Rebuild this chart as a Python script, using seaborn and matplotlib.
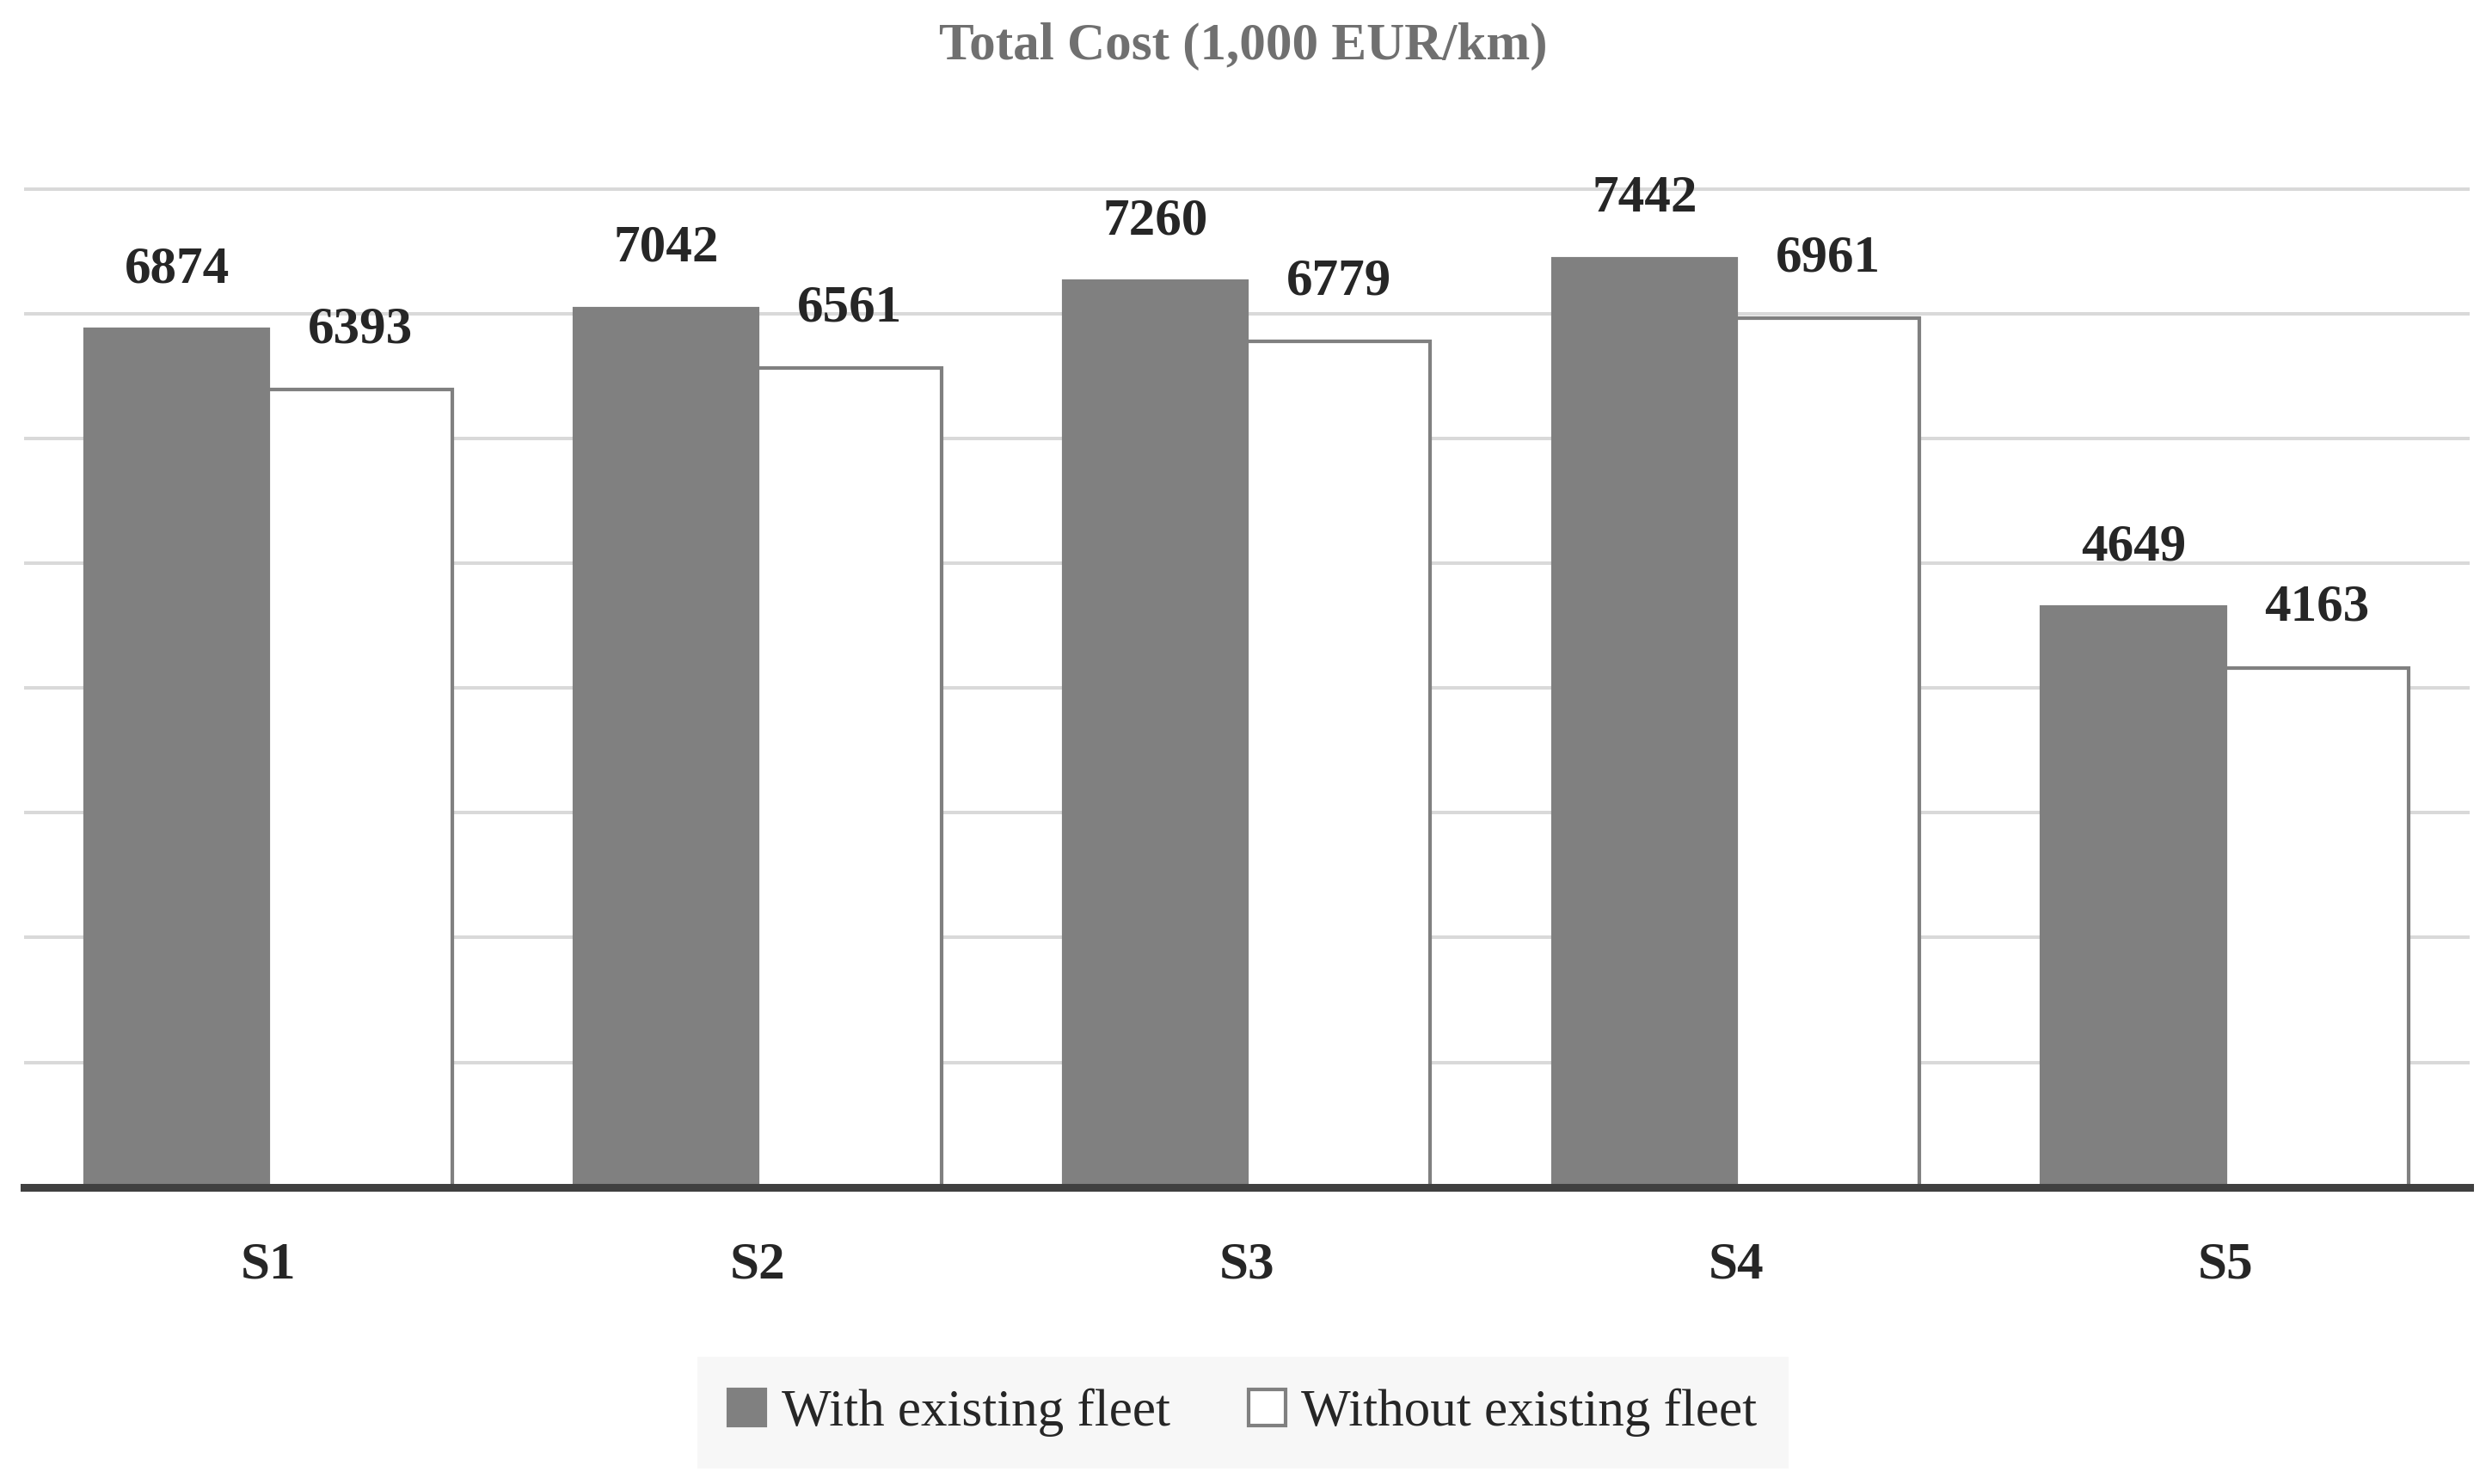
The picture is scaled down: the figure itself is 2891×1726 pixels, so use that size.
import pandas as pd
import matplotlib
matplotlib.use("Agg")
import matplotlib.pyplot as plt
import seaborn as sns

scenarios = ["S1", "S2", "S3", "S4", "S5"]
with_fleet = [6874, 7042, 7260, 7442, 4649]
without_fleet = [6393, 6561, 6779, 6961, 4163]
series = ["With existing fleet", "Without existing fleet"]

df = pd.DataFrame({
    "scenario": scenarios * 2,
    "cost": with_fleet + without_fleet,
    "series": [series[0]] * 5 + [series[1]] * 5,
})

sns.set_style("white")
plt.rcParams["font.family"] = ["Liberation Serif", "DejaVu Serif"]

fig = plt.figure(figsize=(28.91, 17.26), dpi=100)
ax = fig.add_axes([0.0097, 0.2, 0.9838, 0.698])

sns.barplot(data=df, x="scenario", y="cost", hue="series",
            palette=["#808080", "#ffffff"], width=0.75, gap=0,
            edgecolor="#808080", linewidth=3, ax=ax, legend=False, zorder=3)

for c in ax.containers:
    ax.bar_label(c, fmt="%d", padding=30, fontsize=44, fontweight="bold")

ax.set_ylim(0, 8300)
ax.set_xlim(-0.5, 4.5)
ax.set_yticks(range(1000, 8001, 1000))
ax.set_yticklabels([])
ax.yaxis.grid(True, color="#d9d9d9", linewidth=2.9, zorder=0)
ax.set_axisbelow(True)
for s in ["top", "right", "left"]:
    ax.spines[s].set_visible(False)
ax.spines["bottom"].set_color("#404040")
ax.spines["bottom"].set_linewidth(6.5)
ax.spines["bottom"].set_zorder(5)
ax.tick_params(axis="x", length=0, pad=45, labelsize=44)
for t in ax.get_xticklabels():
    t.set_fontweight("bold")
ax.tick_params(axis="y", length=0)
ax.set_xlabel("")
ax.set_ylabel("")

fig.suptitle("Total Cost (1,000 EUR/km)", y=0.985, fontsize=44,
             fontweight="bold", color="#707070")

handles = [plt.Rectangle((0, 0), 1, 1, facecolor="#808080", edgecolor="#808080", linewidth=3),
           plt.Rectangle((0, 0), 1, 1, facecolor="#ffffff", edgecolor="#808080", linewidth=3)]
leg = fig.legend(handles, series, loc="center", bbox_to_anchor=(0.5, 0.048), ncol=2,
                 fontsize=44, frameon=True, facecolor="#f6f6f6", edgecolor="none",
                 fancybox=False, handlelength=0.7, handleheight=0.7, handletextpad=0.3,
                 columnspacing=1.5, borderpad=0.6)

fig.savefig("out.png", dpi=100)
